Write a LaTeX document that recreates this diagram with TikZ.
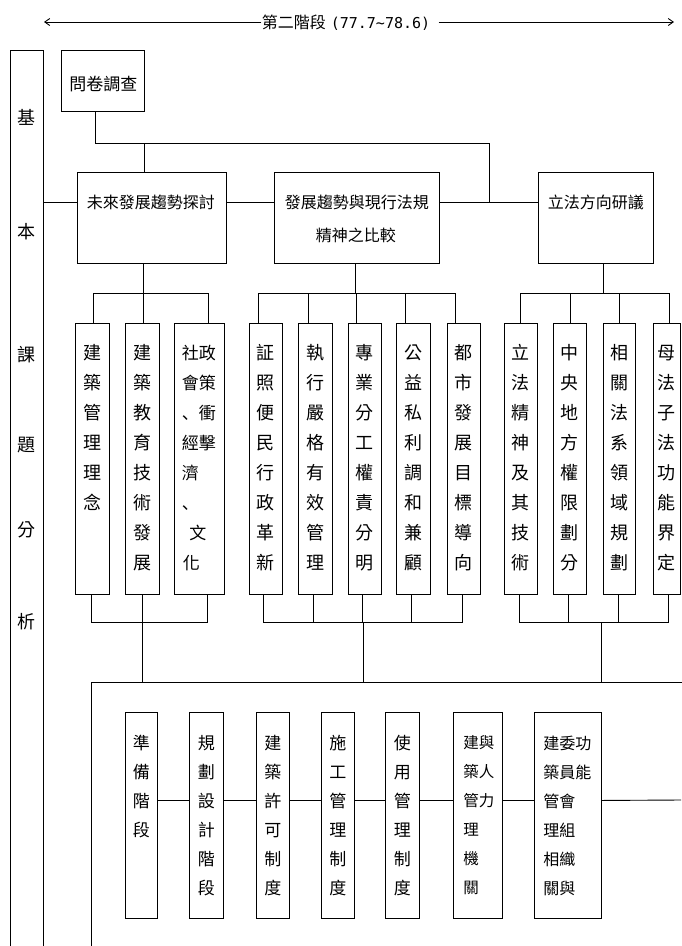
\documentclass[tikz,border=0pt]{standalone}
\usepackage{fontspec}
\newfontfamily\cjk{Noto Sans CJK TC}
\newfontfamily\cjkjp{Noto Sans CJK JP}
\newfontfamily\mono{DejaVu Sans Mono}
\usetikzlibrary{arrows.meta,calc}
\newcommand\mkbox[5]{\node[bx,minimum width={(#4-#2)*1pt},minimum height={(#5-#3)*1pt}] (#1) at (#2,#3) {};}
% name, size, pitch, first offset, list  (single centred column)
\newcommand\vcol[5]{\foreach \c [count=\i from 0] in {#5} \node[ch,font=\cjk\fontsize{#2}{#2}\selectfont] (#1t\i) at ($(#1.north)+(0,{#4+0.38*#2+\i*#3})$) {\c};}
% name, size, pitch, first offset, x offset, list (rows, left aligned)
\newcommand\hrows[6]{\foreach \c [count=\i from 0] in {#6} \node[ch,anchor=base west,font=\cjk\fontsize{#2}{#2}\selectfont] (#1t\i) at ($(#1.north west)+(#5,{#4+0.38*#2+\i*#3})$) {\c};}
\begin{document}
\begin{tikzpicture}[x=1pt,y=-1pt,line width=0.9pt,
  bx/.style={draw,rectangle,inner sep=0pt,anchor=north west},
  ch/.style={inner sep=0pt,anchor=base},
  tip/.style={-{Straight Barb[length=5pt,width=7pt]}}]
\useasboundingbox (0,0) rectangle (681,946);

% title arrow
\node[ch,anchor=base] (T) at (346,28) {{\cjk\fontsize{16}{16}\selectfont 第二階段}\hspace{5pt}{\mono\fontsize{15}{15}\selectfont(77.7\textasciitilde78.6)}};
\coordinate (tl) at (44,22);
\coordinate (tr) at (674,22);
\draw[tip] (T.west |- tl) -- (tl);
\draw[tip] ([xshift=8pt]T.east |- tr) -- (tr);

% boxes
\mkbox{L}{10}{50}{43}{970}
\mkbox{Q}{61}{50}{144}{111}
\mkbox{A}{77}{172}{226}{263}
\mkbox{B}{274}{172}{439}{263}
\mkbox{C}{538}{172}{653}{263}
\mkbox{b1}{75}{323}{109}{594}
\mkbox{b2}{125}{323}{159}{594}
\mkbox{b3}{174}{323}{224}{594}
\mkbox{b4}{249}{323}{282}{594}
\mkbox{b5}{298}{323}{332}{594}
\mkbox{b6}{348}{323}{381}{594}
\mkbox{b7}{396}{323}{430}{594}
\mkbox{b8}{447}{323}{480}{594}
\mkbox{b9}{504}{323}{537}{594}
\mkbox{b10}{553}{323}{586}{594}
\mkbox{b11}{603}{323}{635}{594}
\mkbox{b12}{653}{323}{680}{594}
\mkbox{R}{91}{682}{720}{990}
\mkbox{c1}{125}{712}{157}{918}
\mkbox{c2}{189}{712}{223}{918}
\mkbox{c3}{256}{712}{289}{918}
\mkbox{c4}{321}{712}{354}{918}
\mkbox{c5}{385}{712}{419}{918}
\mkbox{c6}{453}{712}{502}{918}
\mkbox{c7}{534}{712}{601}{918}

% left column text
\foreach \c/\yy [count=\i] in {基/118,本/232,課/355,題/445,分/530,析/622}
  \node[ch,font=\cjk\fontsize{18}{18}\selectfont] (Lt\i) at ($(L.north)+(0,\yy-50+6.8)$) {\c};

% top texts
\node[ch,font=\cjk\fontsize{17}{17}\selectfont] (Qt) at ($(Q.north)+(0.5,40.5)$) {問卷調查};
\node[ch,font=\cjk\fontsize{16}{16}\selectfont] (At) at ($(A.north)+(-1,36)$) {未來發展趨勢探討};
\node[ch,font=\cjk\fontsize{16}{16}\selectfont] (Bt1) at ($(B.north)+(0,36)$) {發展趨勢與現行法規};
\node[ch,font=\cjk\fontsize{16}{16}\selectfont] (Bt2) at ($(B.north)+(-1,69)$) {精神之比較};
\node[ch,font=\cjk\fontsize{16}{16}\selectfont] (Ct) at ($(C.north)+(0,36)$) {立法方向研議};

% second row texts
\vcol{b1}{18}{30}{30}{建,築,管,理,理,念}
\vcol{b2}{18}{30}{30}{建,築,教,育,技,術,發,展}
\hrows{b3}{17}{30}{30}{7.5}{社政,會策}
\node[ch,anchor=base west,font=\cjk\fontsize{17}{17}\selectfont] (b3r3) at ($(b3.north west)+(7.5,{90+0.38*17})$) {{\cjkjp 、}衝};
\node[ch,anchor=base west,font=\cjk\fontsize{17}{17}\selectfont] (b3r4) at ($(b3.north west)+(7.5,{120+0.38*17})$) {經擊};
\node[ch,anchor=base west,font=\cjk\fontsize{17}{17}\selectfont] (b3r5) at ($(b3.north west)+(7.5,{150+0.38*17})$) {濟};
\node[ch,anchor=base west,font=\cjkjp\fontsize{17}{17}\selectfont] (b3r6) at ($(b3.north west)+(7.5,{180+0.38*17})$) {、};
\node[ch,anchor=base west,font=\cjk\fontsize{17}{17}\selectfont] (b3r7) at ($(b3.north west)+(15,{210+0.38*17})$) {文};
\node[ch,anchor=base west,font=\cjk\fontsize{17}{17}\selectfont] (b3r8) at ($(b3.north west)+(8.5,{240+0.38*17})$) {化};
\vcol{b4}{18}{30}{30}{証,照,便,民,行,政,革,新}
\vcol{b5}{18}{30}{30}{執,行,嚴,格,有,效,管,理}
\vcol{b6}{18}{30}{30}{專,業,分,工,權,責,分,明}
\vcol{b7}{18}{30}{30}{公,益,私,利,調,和,兼,顧}
\vcol{b8}{18}{30}{30}{都,市,發,展,目,標,導,向}
\vcol{b9}{18}{30}{30}{立,法,精,神,及,其,技,術}
\vcol{b10}{18}{30}{30}{中,央,地,方,權,限,劃,分}
\vcol{b11}{18}{30}{30}{相,關,法,系,領,域,規,劃}
\vcol{b12}{18}{30}{30}{母,法,子,法,功,能,界,定}

% bottom texts
\vcol{c1}{17}{29}{31}{準,備,階,段}
\vcol{c2}{17}{29}{31}{規,劃,設,計,階,段}
\vcol{c3}{17}{29}{31}{建,築,許,可,制,度}
\vcol{c4}{17}{29}{31}{施,工,管,理,制,度}
\vcol{c5}{17}{29}{31}{使,用,管,理,制,度}
\hrows{c6}{15.5}{29}{31}{10}{建與,築人,管力,理,機,關}
\hrows{c7}{16}{29}{31}{9}{建委功,築員能,管會,理組,相織,關與}

% connectors: top
\draw ($(Q.south west)+(34,0)$) -- ++(0,32) -| ($(B.north east)+(50,30)$);
\draw ($(A.north west)+(67,0)$) -- ++(0,-29);
\draw (L.east |- A.north west) ++(0,30) -- ($(A.north west)+(0,30)$);
\draw ($(A.north east)+(0,30)$) -- ($(B.north west)+(0,30)$);
\draw ($(B.north east)+(0,30)$) -- ($(C.north west)+(0,30)$);

% brackets below top boxes
\draw ($(A.south west)+(66,0)$) -- ++(0,30);
\draw ($(b1.north west)+(18,0)$) -- ++(0,-30) -| ($(b3.north west)+(34,0)$);
\draw ($(b2.north west)+(18,0)$) -- ++(0,-30);

\draw ($(B.south west)+(81,0)$) -- ++(0,30);
\draw ($(b4.north west)+(9,0)$) -- ++(0,-30) -| ($(b8.north west)+(8,0)$);
\draw ($(b5.north west)+(10,0)$) -- ++(0,-30);
\draw ($(b6.north west)+(8,0)$) -- ++(0,-30);
\draw ($(b7.north west)+(9,0)$) -- ++(0,-30);

\draw ($(C.south west)+(65,0)$) -- ++(0,30);
\draw ($(b9.north west)+(16,0)$) -- ++(0,-30) -| ($(b12.north west)+(16,0)$);
\draw ($(b10.north west)+(17,0)$) -- ++(0,-30);
\draw ($(b11.north west)+(16,0)$) -- ++(0,-30);

% brackets below second row
\draw ($(b1.south west)+(16,0)$) -- ++(0,28) -| ($(b3.south west)+(33,0)$);
\draw ($(b2.south west)+(17,0)$) -- ($(R.north west)+(51,0)$);

\draw ($(b4.south west)+(14,0)$) -- ++(0,28) -| ($(b8.south west)+(15,0)$);
\draw ($(b5.south west)+(15,0)$) -- ++(0,28);
\draw ($(b6.south west)+(14,0)$) -- ++(0,28);
\draw ($(b7.south west)+(15,0)$) -- ++(0,28);
\draw ($(R.north west)+(272,0)$) -- ++(0,-60);

\draw ($(b9.south west)+(15,0)$) -- ++(0,28) -| ($(b12.south west)+(15,0)$);
\draw ($(b10.south west)+(15,0)$) -- ++(0,28);
\draw ($(b11.south west)+(15,0)$) -- ++(0,28);
\draw ($(R.north west)+(510,0)$) -- ++(0,-60);

% bottom chain
\coordinate (rend) at (681,800);
\draw ($(c1.east)+(0,-15)$) -- ($(c2.west)+(0,-15)$);
\draw ($(c2.east)+(0,-15)$) -- ($(c3.west)+(0,-15)$);
\draw ($(c3.east)+(0,-15)$) -- ($(c4.west)+(0,-15)$);
\draw ($(c4.east)+(0,-15)$) -- ($(c5.west)+(0,-15)$);
\draw ($(c5.east)+(0,-15)$) -- ($(c6.west)+(0,-15)$);
\draw ($(c6.east)+(0,-15)$) -- ($(c7.west)+(0,-15)$);
\draw ($(c7.east)+(0,-15)$) -- (rend);
\end{tikzpicture}
\end{document}
